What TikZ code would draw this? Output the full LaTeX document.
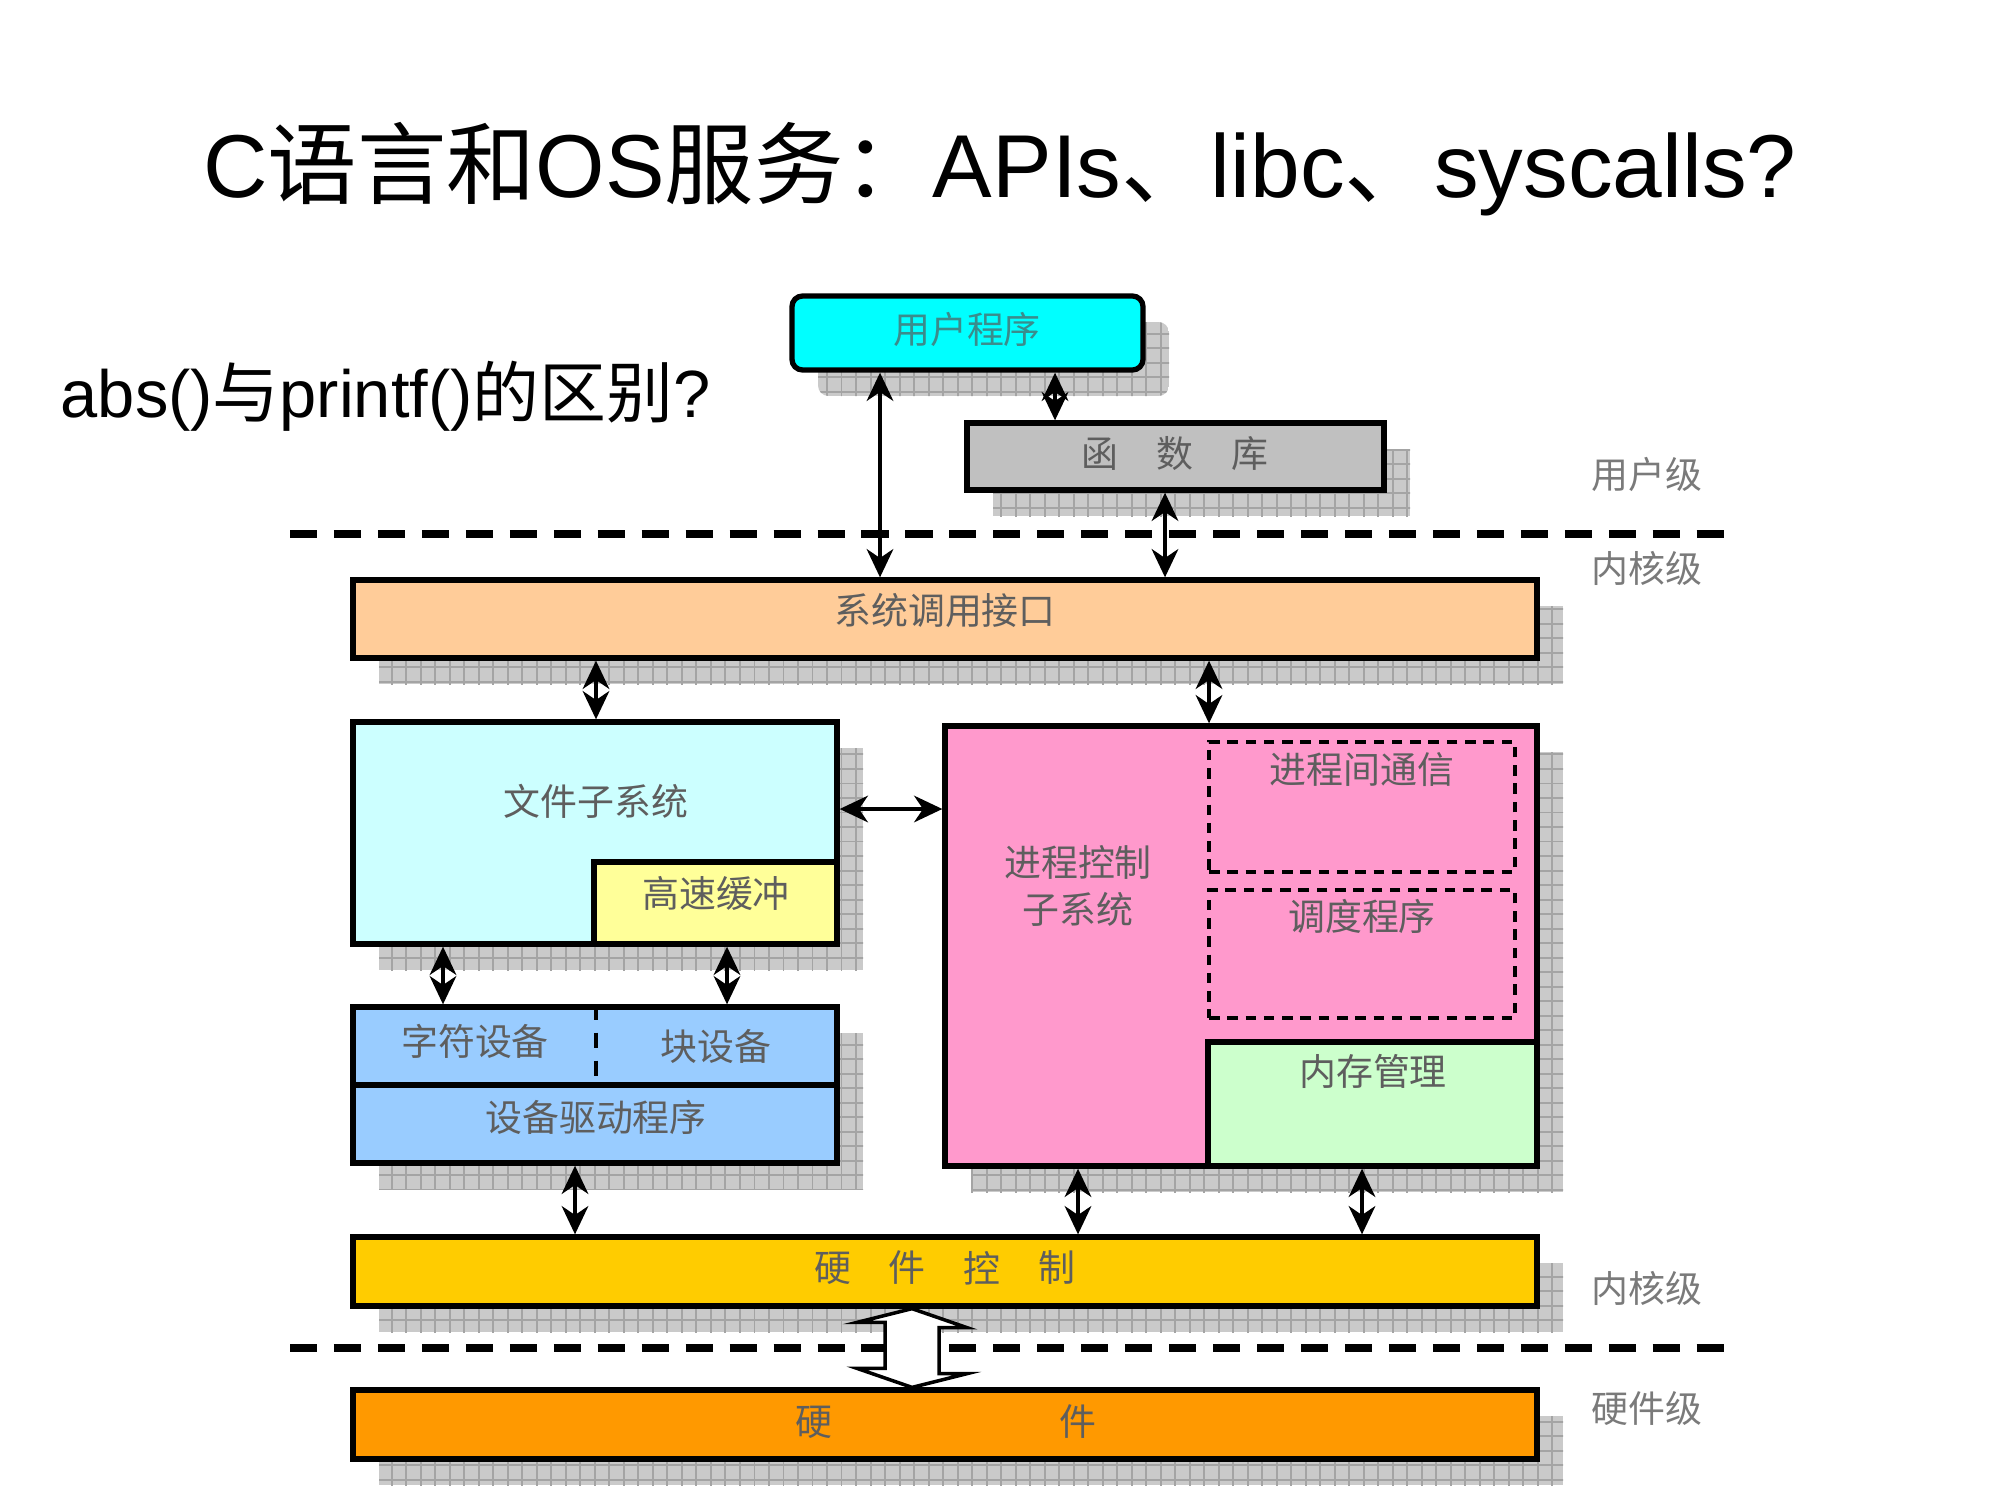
\documentclass[tikz,border=0pt]{standalone}
\usepackage{fontspec}
\setmainfont{Liberation Sans}
\newfontfamily\cjk{Noto Sans CJK SC}
\usetikzlibrary{arrows.meta,fit}
\definecolor{cusr}{HTML}{00FFFF}
\definecolor{clib}{HTML}{C0C0C0}
\definecolor{csys}{HTML}{FFCC99}
\definecolor{cfs}{HTML}{CCFFFF}
\definecolor{ccache}{HTML}{FFFF99}
\definecolor{cpc}{HTML}{FF99CC}
\definecolor{cmem}{HTML}{CCFFCC}
\definecolor{cdev}{HTML}{99CCFF}
\definecolor{chwc}{HTML}{FFCC00}
\definecolor{chw}{HTML}{FF9900}
\definecolor{shadowfill}{HTML}{CACACA}
\definecolor{shadowgrid}{HTML}{A4A4A4}
\definecolor{labelgray}{HTML}{5E5E5E}
\definecolor{sidegray}{HTML}{7A7A7A}
\definecolor{usrtext}{HTML}{3A8C8C}
\newcommand\boxshadow[5][0pt]{%
  \begin{scope}
    \clip[rounded corners=#1] (#2+26,#3+26) rectangle (#4+26,#5+26);
    \fill[shadowfill] (#2+26,#3+26) rectangle (#4+26,#5+26);
    \draw[shadowgrid, line width=0.55pt, step=0.145cm] (#2,#5+40) grid (#4+40,#3);
  \end{scope}}
\begin{document}
\begin{tikzpicture}[x=0.01cm,y=-0.01cm,
  blk/.style={draw=black, line width=1.5pt, inner sep=0pt, fill=#1},
  lbl/.style={font=\cjk\fontsize{10.5}{12}\selectfont, text=labelgray, inner sep=0pt},
  side/.style={font=\cjk\fontsize{10.5}{12}\selectfont, text=sidegray, inner sep=0pt},
  dbl/.style={{Stealth[length=8pt,width=7.5pt,inset=2.5pt]}-{Stealth[length=8pt,width=7.5pt,inset=2.5pt]}, line width=1.35pt},
  sepline/.style={line width=2pt, dash pattern=on 7.7pt off 4.8pt},
  dbox/.style={draw=black, line width=1pt, dash pattern=on 3pt off 2.2pt},
  hollow/.style={draw=black, line width=1pt, fill=white, line join=miter},
]
\useasboundingbox (0,0) rectangle (2000,1500);

% title texts
\node[anchor=base, inner sep=0pt, font=\fontsize{25.4}{30}\selectfont] (title) at (1000,198)
  {C{\cjk 语言和}OS{\cjk 服务：}APIs{\cjk 、}libc{\cjk 、}syscalls?};
\node[anchor=base west, inner sep=0pt, font=\fontsize{19}{23}\selectfont] (sub) at (60,417)
  {abs(){\cjk 与}printf(){\cjk 的区别}?};

% shadows
\boxshadow[3pt]{792}{296}{1143}{370}
\boxshadow{967}{423}{1384}{490}
\boxshadow{353}{580}{1537}{658}
\boxshadow{353}{722}{837}{944}
\boxshadow{945}{726}{1537}{1166}
\boxshadow{353}{1007}{837}{1163}
\boxshadow{353}{1237}{1537}{1306}
\boxshadow{353}{1390}{1537}{1459}

% level separators
\coordinate (s1a) at (290,534); \coordinate (s1b) at (1735,534);
\coordinate (s2a) at (290,1348); \coordinate (s2b) at (1735,1348);
\draw[sepline] (s1a) -- (s1b);
\draw[sepline] (s2a) -- (s2b);

% boxes
\node[blk=cusr, rounded corners=3pt, fit={(792,296) (1143,370)}] (usr) {};
\node[blk=clib, fit={(967,423) (1384,490)}] (lib) {};
\node[blk=csys, fit={(353,580) (1537,658)}] (sys) {};
\node[blk=cfs, fit={(353,722) (837,944)}] (fs) {};
\node[blk=ccache, fit={(594,862) (837,944)}] (cache) {};
\node[blk=cpc, fit={(945,726) (1537,1166)}] (pc) {};
\node[dbox, inner sep=0pt, fit={(1209,742) (1515,872)}] (ipc) {};
\node[dbox, inner sep=0pt, fit={(1209,890) (1515,1018)}] (sched) {};
\node[blk=cmem, fit={(1208,1042) (1537,1166)}] (mem) {};
\node[blk=cdev, fit={(353,1007) (837,1085)}] (dev) {};
\node[blk=cdev, fit={(353,1085) (837,1163)}] (drv) {};
\node[blk=chwc, fit={(353,1237) (1537,1306)}] (hwc) {};
\node[blk=chw, fit={(353,1390) (1537,1459)}] (hw) {};

% device divider
\coordinate (xdiv) at (596,0);
\draw[line width=1.4pt, dash pattern=on 4.5pt off 3.5pt] (dev.north -| xdiv) -- (dev.south -| xdiv);

% labels
\node[lbl, text=usrtext] (usrT) at (967,329) {用户程序};
\node[lbl] (libT1) at (1100,454) {函};
\node[lbl] (libT2) at (1175,454) {数};
\node[lbl] (libT3) at (1250,454) {库};
\node[lbl] (sysT) at (945,610) {系统调用接口};
\node[lbl] (fsT) at (596,801) {文件子系统};
\node[lbl] (cacheT) at (716,893) {高速缓冲};
\node[lbl] (pcT1) at (1078,862) {进程控制};
\node[lbl] (pcT2) at (1078,909) {子系统};
\node[lbl] (ipcT) at (1362,770) {进程间通信};
\node[lbl] (schedT) at (1362,916) {调度程序};
\node[lbl] (memT) at (1373,1071) {内存管理};
\node[lbl] (devT1) at (475,1041) {字符设备};
\node[lbl] (devT2) at (716,1046) {块设备};
\node[lbl] (drvT) at (596,1117) {设备驱动程序};
\node[lbl] (hwcT1) at (833,1268) {硬};
\node[lbl] (hwcT2) at (907,1268) {件};
\node[lbl] (hwcT3) at (982,1268) {控};
\node[lbl] (hwcT4) at (1057,1268) {制};
\node[lbl] (hwT1) at (814,1422) {硬};
\node[lbl] (hwT2) at (1078,1422) {件};
\node[side] (lvU) at (1647,474) {用户级};
\node[side] (lvK1) at (1647,568) {内核级};
\node[side] (lvK2) at (1647,1288) {内核级};
\node[side] (lvH) at (1647,1408) {硬件级};

% connector x positions
\coordinate (xa1) at (880,0);
\coordinate (xa2) at (1055,0);
\coordinate (xa3) at (1165,0);
\coordinate (xa4) at (596,0);
\coordinate (xa5) at (1209,0);
\coordinate (ya6) at (0,809);
\coordinate (xa7) at (443,0);
\coordinate (xa8) at (727,0);
\coordinate (xa9) at (575,0);
\coordinate (xa10) at (1078,0);
\coordinate (xa11) at (1362,0);
\coordinate (xh) at (912,0);

% connectors
\draw[dbl] (usr.south -| xa1) -- (sys.north -| xa1);
\draw[dbl] (usr.south -| xa2) -- (lib.north -| xa2);
\draw[dbl] (lib.south -| xa3) -- (sys.north -| xa3);
\draw[dbl] (sys.south -| xa4) -- (fs.north -| xa4);
\draw[dbl] (sys.south -| xa5) -- (pc.north -| xa5);
\draw[dbl] (fs.east |- ya6) -- (pc.west |- ya6);
\draw[dbl] (fs.south -| xa7) -- (dev.north -| xa7);
\draw[dbl] (cache.south -| xa8) -- (dev.north -| xa8);
\draw[dbl] (drv.south -| xa9) -- (hwc.north -| xa9);
\draw[dbl] (pc.south -| xa10) -- (hwc.north -| xa10);
\draw[dbl] (mem.south -| xa11) -- (hwc.north -| xa11);

% hollow double arrow between hardware control and hardware
\coordinate (ha) at (hwc.south -| xh);
\coordinate (hb) at (hw.north -| xh);
\draw[hollow] (ha) -- ++(55,19) -- ++(-28,0) -- ++(0,46) -- ++(28,0) -- (hb)
  -- ++(-55,-19) -- ++(28,0) -- ++(0,-46) -- ++(-28,0) -- cycle;
\end{tikzpicture}
\end{document}
